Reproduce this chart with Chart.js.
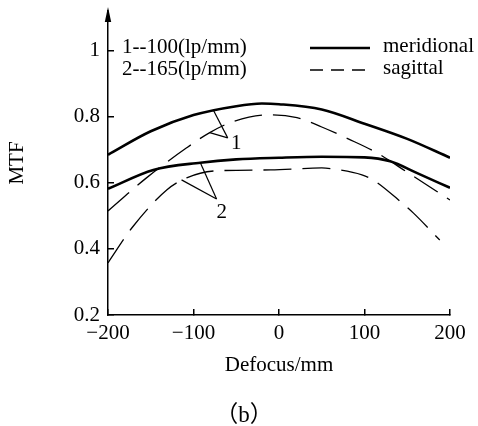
<!DOCTYPE html>
<html><head><meta charset="utf-8">
<script src="https://cdn.jsdelivr.net/npm/chart.js@4/dist/chart.umd.min.js"></script>
<style>html,body{margin:0;padding:0;background:#fff}</style>
</head><body>
<canvas id="c" width="478" height="426"></canvas>
<script>
// ---- data ----
const defocusM1 = [-200, -150, -100, -50, -20, 0, 50, 100, 150, 200];
const mtfM1     = [0.685, 0.756, 0.805, 0.832, 0.840, 0.838, 0.822, 0.779, 0.733, 0.676];
const defocusS1 = [-200, -155, -108, -81, -54, -10, 21, 50, 81, 115, 150, 200];
const mtfS1     = [0.515, 0.615, 0.706, 0.752, 0.785, 0.806, 0.797, 0.769, 0.733, 0.690, 0.632, 0.548];
const defocusM2 = [-200, -147, -92, -50, 0, 50, 100, 130, 161, 200];
const mtfM2     = [0.582, 0.639, 0.661, 0.671, 0.676, 0.679, 0.677, 0.665, 0.630, 0.585];
const defocusS2 = [-200, -171, -131, -108, -75, -10, 50, 63, 97, 110, 144, 157, 188];
const mtfS2     = [0.358, 0.467, 0.579, 0.615, 0.636, 0.639, 0.645, 0.642, 0.624, 0.609, 0.539, 0.509, 0.427];

const xTicks = [-200, -100, 0, 100, 200];
const xTickLabels = ['\u2212200', '\u2212100', '0', '100', '200'];
const yTicks = [0.2, 0.4, 0.6, 0.8, 1];
const yTickLabels = ['0.2', '0.4', '0.6', '0.8', '1'];

const legendLabels = ['meridional', 'sagittal'];
const noteLines = ['1--100(lp/mm)', '2--165(lp/mm)'];

// leader annotations in data units: [defocus, MTF]
const leader1 = [[[-77, 0.821], [-60, 0.736]], [[-81, 0.752], [-60, 0.736]]];
const label1 = { text: '1', at: [-50, 0.720] };
const leader2 = [[[-92, 0.661], [-73, 0.551]], [[-114, 0.609], [-73, 0.551]]];
const label2 = { text: '2', at: [-67, 0.511] };

const FONT = "'Liberation Serif', 'Times New Roman', serif";
Chart.defaults.font.family = FONT;
Chart.defaults.font.size = 21;
Chart.defaults.color = '#000';

const pts = (xs, ys) => xs.map((x, i) => ({ x: x, y: ys[i] }));
const solid = { borderColor: '#000', borderWidth: 2.6, pointRadius: 0, cubicInterpolationMode: 'monotone', fill: false };
const dashed = { borderColor: '#000', borderWidth: 1.3, borderDash: [28, 11], pointRadius: 0, cubicInterpolationMode: 'monotone', fill: false };

const extras = {
  id: 'extras',
  afterDraw(chart) {
    const ctx = chart.ctx, xs = chart.scales.x, ys = chart.scales.y, ca = chart.chartArea;
    ctx.save();
    // arrow on y axis
    const ax = xs.getPixelForValue(-200);
    ctx.fillStyle = '#000';
    ctx.beginPath();
    ctx.moveTo(ax, ca.top - 4);
    ctx.lineTo(ax - 3.2, ca.top + 11);
    ctx.lineTo(ax + 3.2, ca.top + 11);
    ctx.closePath();
    ctx.fill();
    // leaders
    ctx.strokeStyle = '#000';
    ctx.lineWidth = 1.2;
    [...leader1, ...leader2].forEach(seg => {
      ctx.beginPath();
      ctx.moveTo(xs.getPixelForValue(seg[0][0]), ys.getPixelForValue(seg[0][1]));
      ctx.lineTo(xs.getPixelForValue(seg[1][0]), ys.getPixelForValue(seg[1][1]));
      ctx.stroke();
    });
    ctx.font = '21px ' + FONT;
    ctx.textAlign = 'center';
    ctx.textBaseline = 'middle';
    [label1, label2].forEach(l => {
      ctx.fillText(l.text, xs.getPixelForValue(l.at[0]), ys.getPixelForValue(l.at[1]));
    });
    // notes
    ctx.textAlign = 'left';
    ctx.fillText(noteLines[0], 122, 47);
    ctx.fillText(noteLines[1], 122, 69);
    // legend
    ctx.lineWidth = 2.6;
    ctx.beginPath(); ctx.moveTo(310, 48); ctx.lineTo(370, 48); ctx.stroke();
    ctx.lineWidth = 1.3;
    ctx.setLineDash([13, 8]);
    ctx.beginPath(); ctx.moveTo(310, 70); ctx.lineTo(370, 70); ctx.stroke();
    ctx.setLineDash([]);
    ctx.fillText(legendLabels[0], 383, 46);
    ctx.fillText(legendLabels[1], 383, 68);
    // caption
    ctx.textAlign = 'center';
    ctx.font = "23px 'Liberation Serif', 'Noto Sans CJK SC', serif";
    ctx.fillText('\uFF08b\uFF09', 244, 416);
    ctx.restore();
  }
};

new Chart(document.getElementById('c'), {
  type: 'line',
  data: {
    datasets: [
      Object.assign({ label: 'meridional 1', data: pts(defocusM1, mtfM1) }, solid),
      Object.assign({ label: 'sagittal 1', data: pts(defocusS1, mtfS1) }, dashed),
      Object.assign({ label: 'meridional 2', data: pts(defocusM2, mtfM2) }, solid),
      Object.assign({ label: 'sagittal 2', data: pts(defocusS2, mtfS2) }, dashed)
    ]
  },
  options: {
    responsive: false,
    animation: false,
    layout: { padding: { left: 0, right: 28, top: 11, bottom: 0 } },
    plugins: { legend: { display: false }, tooltip: { enabled: false } },
    scales: {
      x: {
        type: 'linear', min: -200, max: 200,
        afterBuildTicks: s => { s.ticks = xTicks.map(v => ({ value: v })); },
        afterFit: s => { s.height = 111; s.paddingLeft = 0; s.paddingRight = 0; },
        ticks: { padding: 12, maxRotation: 0, autoSkip: false, callback: v => xTickLabels[xTicks.indexOf(v)] },
        grid: { drawOnChartArea: false, tickLength: -6, color: '#000', lineWidth: 1.5 },
        border: { color: '#000', width: 1.5 },
        title: { display: true, text: 'Defocus/mm', color: '#000', font: { size: 21 }, padding: { top: 0, bottom: 48 } }
      },
      y: {
        type: 'linear', min: 0.2, max: 1.12,
        afterBuildTicks: s => { s.ticks = yTicks.map(v => ({ value: v })); },
        afterFit: s => { s.width = 108; s.paddingTop = 0; s.paddingBottom = 0; },
        ticks: { padding: 14, autoSkip: false, callback: v => yTickLabels[yTicks.indexOf(v)] },
        grid: { drawOnChartArea: false, tickLength: -6, color: '#000', lineWidth: 1.5 },
        border: { color: '#000', width: 1.5 },
        title: { display: true, text: 'MTF', color: '#000', font: { size: 21 }, padding: { top: 5, bottom: 0 } }
      }
    }
  },
  plugins: [extras]
});
</script>
</body></html>
